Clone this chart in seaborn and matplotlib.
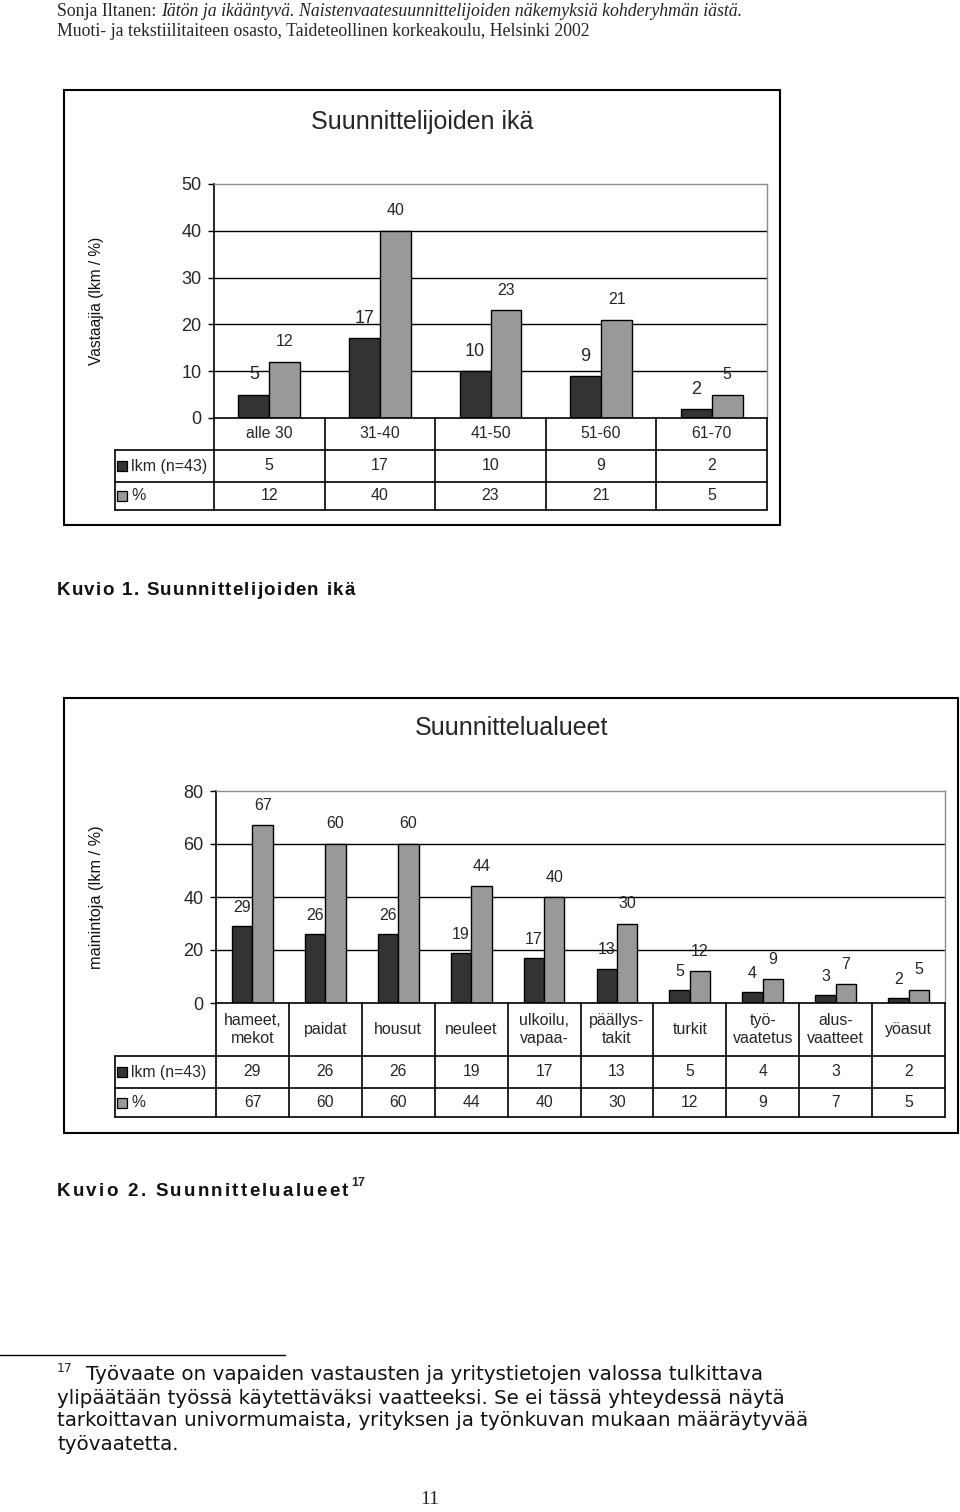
import numpy as np
import pandas as pd
import matplotlib
matplotlib.use('Agg')
import matplotlib.pyplot as plt
import seaborn as sns
from matplotlib.patches import Rectangle
from matplotlib.lines import Line2D

W, H = 960, 1512

# ---------------- data ----------------
age_groups = ['alle 30', '31-40', '41-50', '51-60', '61-70']
age_lkm = [5, 17, 10, 9, 2]
age_pct = [12, 40, 23, 21, 5]

areas = ['hameet,\nmekot', 'paidat', 'housut', 'neuleet', 'ulkoilu,\nvapaa-',
         'päällys-\ntakit', 'turkit', 'työ-\nvaatetus', 'alus-\nvaatteet', 'yöasut']
area_lkm = [29, 26, 26, 19, 17, 13, 5, 4, 3, 2]
area_pct = [67, 60, 60, 44, 40, 30, 12, 9, 7, 5]

series_names = ['lkm (n=43)', '%']
age_yticks = [0, 10, 20, 30, 40, 50]
area_yticks = [0, 20, 40, 60, 80]

DARK = '#333333'
LIGHT = '#999999'

sns.set_theme(style='white')
plt.rcParams['font.family'] = ['Liberation Sans', 'DejaVu Sans']

fig = plt.figure(figsize=(9.6, 15.12), dpi=100)
fig.patch.set_facecolor('white')
renderer = fig.canvas.get_renderer()


def rect(x0, y0, x1, y1):
    return [x0 / W, 1 - y1 / H, (x1 - x0) / W, (y1 - y0) / H]


def ftext(x, y, s, **kw):
    return fig.text(x / W, 1 - y / H, s, **kw)


def text_width(t):
    return t.get_window_extent(renderer).width


def measure(s, **kw):
    t = fig.text(0, 0, s, **kw)
    w = text_width(t)
    t.remove()
    return w


def fit_size(s, target, base, **kw):
    return base * target / measure(s, fontsize=base, **kw)


def tracked_text(x, y, s, target, **kw):
    """Draw letter-spaced text starting at x spanning target px."""
    ref = measure('aa', **kw)
    widths = []
    for ch in s:
        if ch == ' ':
            widths.append(measure('a a', **kw) - ref)
        else:
            widths.append(measure(ch, **kw))
    extra = (target - sum(widths)) / (len(s) - 1)
    cx = x
    for ch, w in zip(s, widths):
        if ch != ' ':
            ftext(cx, y, ch, va='center', ha='left', **kw)
        cx += w + extra
    return cx - extra


def chart(cats, lkm, pct, yticks, box, plot, table_left, rows, title, title_y,
          title_fs, ylabel, fs):
    bx0, by0, bx1, by1 = box
    fig.add_artist(Rectangle((bx0 / W, 1 - by1 / H), (bx1 - bx0) / W, (by1 - by0) / H,
                             transform=fig.transFigure, fill=False, ec='black', lw=1.5))
    ftext((bx0 + bx1) / 2, title_y, title, ha='center', va='center', fontsize=title_fs)

    px0, py0, px1, py1 = plot
    n = len(cats)
    ax = fig.add_axes(rect(px0, py0, px1, py1))
    df = pd.DataFrame({
        'cat': cats * 2,
        'series': [series_names[0]] * n + [series_names[1]] * n,
        'value': lkm + pct,
    })
    sns.barplot(data=df, x='cat', y='value', hue='series', order=cats,
                hue_order=series_names, palette=[DARK, LIGHT], saturation=1,
                width=0.56, edgecolor='black', linewidth=1, legend=False, ax=ax)
    ax.set_xlim(-0.5, n - 0.5)
    ax.set_ylim(0, yticks[-1])
    ax.set_yticks(yticks)
    ax.set_xticks([])
    ax.set_xlabel('')
    ax.set_ylabel('')
    for t in yticks[1:-1]:
        ax.axhline(t, color='black', lw=1, zorder=0.5)
    for side in ['left', 'bottom']:
        ax.spines[side].set_color('black')
        ax.spines[side].set_linewidth(1.2)
    for side in ['top', 'right']:
        ax.spines[side].set_color('#8c8c8c')
        ax.spines[side].set_linewidth(1)
    ax.tick_params(axis='y', left=True, direction='out', length=4, width=1,
                   color='black', labelsize=fs['tick'], pad=5)
    ax.set_facecolor('white')

    ax.bar_label(ax.containers[0], labels=[str(v) for v in lkm], padding=8,
                 fontsize=fs['dark'])
    ax.bar_label(ax.containers[1], labels=[str(v) for v in pct], padding=9,
                 fontsize=fs['light'])

    ftext(97, (py0 + py1) / 2, ylabel, rotation=90, ha='center', va='center',
          fontsize=fs['ylabel'], color='#111111')

    # table
    r0, r1, r2 = [r - py1 for r in rows]
    at = fig.add_axes(rect(table_left, py1, px1, rows[-1]))
    at.axis('off')
    cw = (px1 - px0) / n
    xl = -0.5 - (px0 - table_left) / cw
    at.set_xlim(xl, n - 0.5)
    at.set_ylim(r2, 0)
    kw = dict(color='black', lw=1.2, clip_on=False)
    for k in range(n + 1):
        at.plot([-0.5 + k, -0.5 + k], [0, r2], **kw)
    at.plot([xl, xl], [r0, r2], **kw)
    for r in (r0, r1, r2):
        at.plot([xl, n - 0.5], [r, r], **kw)
    for i, c in enumerate(cats):
        at.text(i, r0 / 2, c, ha='center', va='center', fontsize=fs['cat'],
                linespacing=1.25)
        at.text(i, (r0 + r1) / 2, str(lkm[i]), ha='center', va='center',
                fontsize=fs['table'])
        at.text(i, (r1 + r2) / 2, str(pct[i]), ha='center', va='center',
                fontsize=fs['table'])
    for (ya, yb), col, name in [((r0, r1), DARK, series_names[0]),
                                ((r1, r2), LIGHT, series_names[1])]:
        yc = (ya + yb) / 2
        at.scatter([xl + 7 / cw], [yc], marker='s', s=46, c=col,
                   edgecolors='black', linewidths=0.9, clip_on=False, zorder=3)
        at.text(xl + 16 / cw, yc, name, ha='left', va='center',
                fontsize=fs['table'])
    return ax


chart(age_groups, age_lkm, age_pct, age_yticks,
      box=(64, 90, 780, 525), plot=(214, 184, 767, 418), table_left=115,
      rows=(450, 482, 510), title='Suunnittelijoiden ikä', title_y=122,
      title_fs=18, ylabel='Vastaajia (lkm / %)',
      fs=dict(tick=13, dark=13, light=11.5, ylabel=11.2, cat=11.3, table=11.5))

chart(areas, area_lkm, area_pct, area_yticks,
      box=(64, 698, 958, 1133), plot=(216, 791, 945, 1003), table_left=115,
      rows=(1056, 1088, 1117), title='Suunnittelualueet', title_y=728,
      title_fs=18, ylabel='mainintoja (lkm / %)',
      fs=dict(tick=13, dark=11.5, light=11.5, ylabel=11.7, cat=11.5, table=11.3))

# ---------------- page text ----------------
serif = ['Liberation Serif', 'DejaVu Serif']
line2 = 'Muoti- ja tekstiilitaiteen osasto, Taideteollinen korkeakoulu, Helsinki 2002'
hfs = fit_size(line2, 590 - 57, 12, family=serif)
t1 = ftext(57, 12, 'Sonja Iltanen: ', family=serif, fontsize=hfs, va='center')
w1 = text_width(t1)
ftext(57 + w1, 12, 'Iätön ja ikääntyvä. Naistenvaatesuunnittelijoiden näkemyksiä kohderyhmän iästä.',
      family=serif, style='italic', fontsize=hfs, va='center', color='#222222')
ftext(57, 32, line2, family=serif, fontsize=hfs, va='center')

cap_kw = dict(family=['Liberation Sans', 'DejaVu Sans'], fontsize=13.5,
              fontweight='bold', color='#111111')
tracked_text(57, 591, 'Kuvio 1. Suunnittelijoiden ikä', 355 - 57, **cap_kw)
end2 = tracked_text(57, 1191, 'Kuvio 2. Suunnittelualueet', 348 - 57, **cap_kw)
ftext(end2 + 3, 1183, '17', family=['Liberation Sans'], fontsize=9,
      fontweight='bold', va='center')

# footnote
fig.add_artist(Line2D([0, 285 / W], [1 - 1355 / H, 1 - 1355 / H],
                      transform=fig.transFigure, color='black', lw=1))
fn_lines = ['Työvaate on vapaiden vastausten ja yritystietojen valossa tulkittava',
            'ylipäätään työssä käytettäväksi vaatteeksi. Se ei tässä yhteydessä näytä',
            'tarkoittavan univormumaista, yrityksen ja työnkuvan mukaan määräytyvää',
            'työvaatetta.']
ffs = fit_size(fn_lines[2], 810 - 57, 13, family=['DejaVu Sans'])
fn_kw = dict(family=['DejaVu Sans'], fontsize=ffs, va='center', color='#111111')
ftext(57, 1369, '17', family=['DejaVu Sans'], fontsize=ffs * 0.62, va='center')
ftext(86, 1375, fn_lines[0], **fn_kw)
ftext(57, 1398, fn_lines[1], **fn_kw)
ftext(57, 1421, fn_lines[2], **fn_kw)
ftext(57, 1444, fn_lines[3], **fn_kw)

ftext(430, 1500, '11', family=serif, fontsize=14, ha='center', va='center')

fig.savefig('out.png', dpi=100, facecolor='white')
